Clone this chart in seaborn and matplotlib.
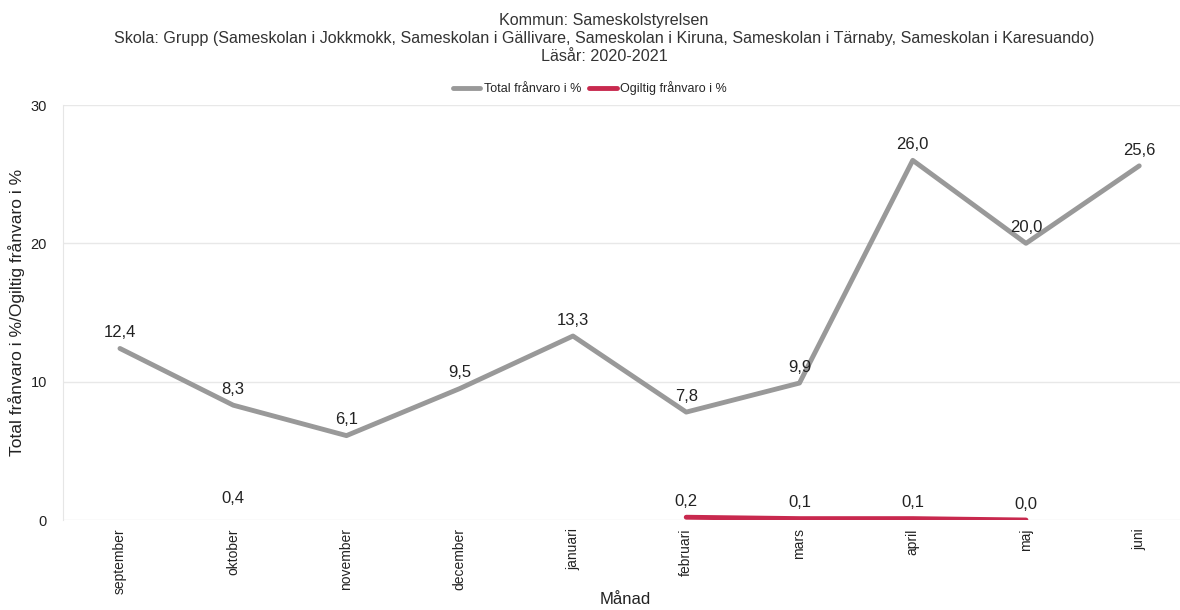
import numpy as np
import pandas as pd
import matplotlib
matplotlib.use("Agg")
import matplotlib.pyplot as plt
import seaborn as sns
from matplotlib.lines import Line2D

# --- DATA
manader = ['september', 'oktober', 'november', 'december', 'januari',
           'februari', 'mars', 'april', 'maj', 'juni']
total = [12.4, 8.3, 6.1, 9.5, 13.3, 7.8, 9.9, 26.0, 20.0, 25.6]
ogiltig = [np.nan, 0.4, np.nan, np.nan, np.nan, 0.2, 0.1, 0.1, 0.0, np.nan]
serier = ['Total frånvaro i %', 'Ogiltig frånvaro i %']
farger = ['#999999', '#c8294e']

titel = ("Kommun: Sameskolstyrelsen\n"
         "Skola: Grupp (Sameskolan i Jokkmokk, Sameskolan i Gällivare, Sameskolan i Kiruna, "
         "Sameskolan i Tärnaby, Sameskolan i Karesuando)\n"
         "Läsår: 2020-2021")

# --- LONG FORMAT, split into runs so gaps are not bridged
rows = []
for name, vals in zip(serier, [total, ogiltig]):
    seg = 0
    prev_nan = True
    for i, v in enumerate(vals):
        if np.isnan(v):
            prev_nan = True
            continue
        if prev_nan:
            seg += 1
        prev_nan = False
        rows.append({'x': i, 'value': v, 'serie': name, 'seg': f'{name}_{seg}'})
df = pd.DataFrame(rows)

sns.set_style("white")
plt.rcParams['font.family'] = ['Liberation Sans', 'DejaVu Sans']

fig = plt.figure(figsize=(11.8, 6.1), dpi=100)
ax = fig.add_axes([63 / 1180, 90 / 610, 1 - 63 / 1180, 415 / 610])

sns.lineplot(data=df, x='x', y='value', hue='serie', units='seg', estimator=None,
             palette=dict(zip(serier, farger)), hue_order=serier,
             linewidth=3.5, ax=ax, legend=False)

# --- DATA LABELS
for name, vals in zip(serier, [total, ogiltig]):
    for i, v in enumerate(vals):
        if np.isnan(v):
            continue
        ax.annotate(f'{v:.1f}'.replace('.', ','), (i, v), xytext=(0, 6),
                    textcoords='offset points', ha='center', va='bottom',
                    fontsize=12, color='#222222')

ax.set_xlim(-0.503, 9.36)
ax.set_ylim(0, 30)
ax.set_yticks([0, 10, 20, 30])
ax.set_xticks(range(len(manader)))
ax.set_xticklabels(manader, rotation=90, fontsize=10, color='#222222')
ax.tick_params(axis='y', labelsize=10.5, colors='#222222', length=8, color='#e6e6e6')
ax.tick_params(axis='x', length=0, pad=6)
ax.grid(axis='y', color='#e8e8e8', linewidth=1)
for s in ['top', 'right', 'bottom']:
    ax.spines[s].set_visible(False)
ax.spines['left'].set_color('#e6e6e6')

ax.set_xlabel('Månad', fontsize=12, color='#222222')
ax.xaxis.set_label_coords((625 - 63) / 1117, -72 / 415)
ax.set_ylabel('Total frånvaro i %/Ogiltig frånvaro i %', fontsize=12.5, color='#222222')
ax.yaxis.set_label_coords(-38 / 1117, 0.5)

fig.text(604 / 1180, 1 - 13 / 610, titel, ha='center', va='top', fontsize=11.6,
         color='#333333', linespacing=1.25)

# --- LEGEND
handles = [Line2D([0], [0], color=c, linewidth=3.5) for c in farger]
fig.legend(handles, serier, loc='center', bbox_to_anchor=(0.5, 1 - 88 / 610),
           ncol=2, frameon=False, fontsize=9, handlelength=2.2, columnspacing=0.6,
           handletextpad=0.3)

fig.savefig('out.png', dpi=100)
